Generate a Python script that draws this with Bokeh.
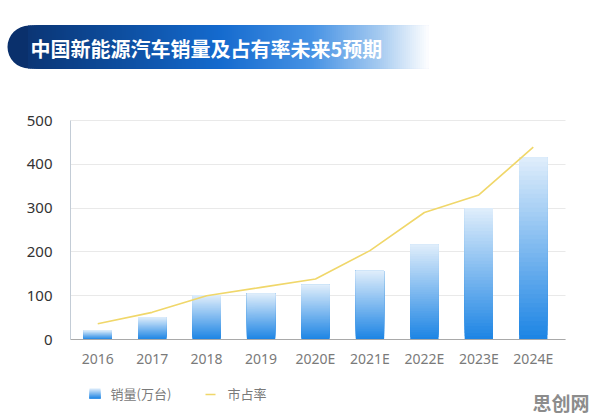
import numpy as np
from bokeh.plotting import figure
from bokeh.models import Range1d, Label, FixedTicker
from bokeh.embed import file_html
from bokeh.resources import INLINE

# ---- data ----
years = ["2016", "2017", "2018", "2019", "2020E", "2021E", "2022E", "2023E", "2024E"]
sales = [21, 51, 101, 105, 125, 157, 217, 300, 416]          # 销量(万台)
share = [36, 62, 100, 119, 138, 203, 290, 330, 439]          # 市占率 (plotted on the same scale)
y_ticks = [0, 100, 200, 300, 400, 500]
title_text = "中国新能源汽车销量及占有率未来5预期"
legend_sales = "销量(万台)"
legend_share = "市占率"
brand = "思创网"

W, H = 596, 420
CJK = "Noto Sans CJK SC"

# chart box inside the canvas (pixels)
PLOT_L, PLOT_R, PLOT_T, PLOT_B = 70, 560, 120, 339
Y_MAX = 500
ux = (PLOT_R - PLOT_L) / len(years)          # pixels per category
uy = (PLOT_B - PLOT_T) / Y_MAX               # pixels per value unit


def hexcol(rgb):
    return "#%02x%02x%02x" % tuple(int(round(c)) for c in rgb)


def blend(c0, c1, t):
    return hexcol([a + (b - a) * t for a, b in zip(c0, c1)])


BAR_BOTTOM = (28, 132, 228)
BAR_TOP = (224, 238, 251)

x_pos = np.arange(len(years)) + 0.5

p = figure(width=W, height=H,
           x_range=Range1d(-PLOT_L / ux, len(years) + (W - PLOT_R) / ux),
           y_range=Range1d(-(H - PLOT_B) / uy, Y_MAX + PLOT_T / uy),
           output_backend="svg", toolbar_location=None,
           min_border=0, outline_line_color=None,
           background_fill_color="white", border_fill_color="white")
# pixel space for the banner, legend and brand
p.extra_x_ranges = {"px": Range1d(0, W)}
p.extra_y_ranges = {"px": Range1d(H, 0)}

# ---- gradient banner ----
b_left, b_top, b_bot, b_right = 7, 25, 68, 428
r = (b_bot - b_top) / 2
stops_x = [0.0, 0.25, 0.5, 0.72, 0.88, 1.0]
stops_c = [(10, 48, 108), (13, 76, 156), (20, 106, 206), (70, 146, 228), (165, 202, 240), (255, 255, 255)]
p.ellipse(x=[b_left + r], y=[(b_top + b_bot) / 2], width=2 * r, height=2 * r,
          fill_color=hexcol(stops_c[0]), line_color=None,
          x_range_name="px", y_range_name="px")
xs = np.arange(b_left + r - 1, b_right, 2.0)
cols = []
for xv in xs:
    t = (xv - b_left) / (b_right - b_left)
    cols.append(hexcol([np.interp(t, stops_x, [c[k] for c in stops_c]) for k in range(3)]))
# each strip runs to the right end; later strips cover earlier ones, so no seams
p.quad(left=xs, right=b_right, top=b_top, bottom=b_bot, fill_color=cols, line_color=None,
       x_range_name="px", y_range_name="px")
p.add_layout(Label(x=30, y=(b_top + b_bot) / 2 + 1, text=title_text, text_color="white",
                   text_font=CJK, text_font_style="bold", text_font_size="20px",
                   text_baseline="middle", x_range_name="px", y_range_name="px"))

# ---- gradient bars ----
N = 40
bx, bb, bt, bc = [], [], [], []
for xp, v in zip(x_pos, sales):
    edges = np.linspace(0, v, N + 1)
    for i in range(N):
        bx.append(xp)
        bb.append(edges[i])
        bt.append(v)
        bc.append(blend(BAR_BOTTOM, BAR_TOP, (i + 0.5) / N))
# slices are stacked so each one covers the bar from its own start to the top
p.vbar(x=bx, bottom=bb, top=bt, width=0.52, fill_color=bc, line_color=None)

# ---- market share line ----
p.line(x=x_pos, y=share, line_color="#f0d76a", line_width=1.6)

# ---- axes and grid ----
x_end = len(years) + 5 / ux
p.xgrid.grid_line_color = None
p.ygrid.grid_line_color = "#e9e9e9"
p.ygrid.grid_line_width = 1
p.ygrid.cross_bounds = (0, x_end)

p.yaxis.fixed_location = 0
p.yaxis.bounds = (0, Y_MAX)
p.yaxis.ticker = FixedTicker(ticks=y_ticks)
p.yaxis.axis_line_color = "#c3ccd6"
p.yaxis.major_tick_line_color = None
p.yaxis.minor_tick_line_color = None
p.yaxis.major_tick_out = 0
p.yaxis.minor_tick_out = 0
p.yaxis.major_label_standoff = 18
p.yaxis.major_label_text_font = "Noto Sans"
p.yaxis.major_label_text_font_size = "15px"
p.yaxis.major_label_text_color = "#333333"

p.xaxis.fixed_location = 0
p.xaxis.bounds = (0, x_end)
p.xaxis.ticker = FixedTicker(ticks=list(x_pos))
p.xaxis.major_label_overrides = {float(xp): yr for xp, yr in zip(x_pos, years)}
p.xaxis.axis_line_color = "#a9a9a9"
p.xaxis.major_tick_line_color = None
p.xaxis.minor_tick_line_color = None
p.xaxis.major_tick_out = 0
p.xaxis.minor_tick_out = 0
p.xaxis.major_label_standoff = 9
p.xaxis.major_label_text_font = "Noto Sans"
p.xaxis.major_label_text_font_size = "14px"
p.xaxis.major_label_text_color = "#7a7a7a"

# ---- legend ----
sq_top, sq_bot = 388, 398
ks = np.linspace(sq_top, sq_bot, 11)
p.quad(left=89, right=100, top=ks[:-1], bottom=sq_bot,
       fill_color=[blend(BAR_TOP, BAR_BOTTOM, (i + 0.5) / 10) for i in range(10)],
       line_color=None, x_range_name="px", y_range_name="px")
p.add_layout(Label(x=110, y=393, text=legend_sales, text_color="#7a7a7a", text_font=CJK,
                   text_font_size="13px", text_baseline="middle",
                   x_range_name="px", y_range_name="px"))
p.segment(x0=[205], y0=[394], x1=[215], y1=[394], line_color="#f0d76a", line_width=1.6,
          x_range_name="px", y_range_name="px")
p.add_layout(Label(x=227, y=393, text=legend_share, text_color="#7a7a7a", text_font=CJK,
                   text_font_size="13px", text_baseline="middle",
                   x_range_name="px", y_range_name="px"))

# ---- brand mark ----
p.add_layout(Label(x=589, y=402, text=brand, text_color="#8c8c8c", text_font=CJK,
                   text_font_style="bold", text_font_size="19px",
                   text_baseline="middle", text_align="right",
                   x_range_name="px", y_range_name="px"))

open("out.html", "w").write(file_html(p, INLINE))
